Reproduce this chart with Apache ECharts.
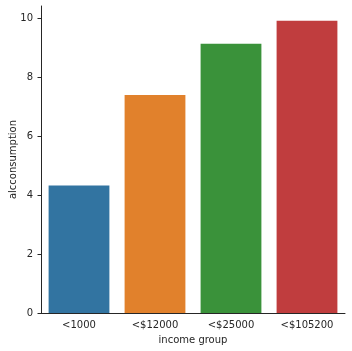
<!DOCTYPE html>
<html><head><meta charset="utf-8">
<script src="https://cdn.jsdelivr.net/npm/echarts@6/dist/echarts.min.js"></script>
<style>html,body{margin:0;padding:0;background:#fff}#c{width:352px;height:351px}</style>
</head><body><div id="c"></div>
<script>
const categories = ['<1000', '<$12000', '<$25000', '<$105200'];
const values = [4.33, 7.40, 9.14, 9.92];
const colors = ['#3274a1', '#e1812c', '#3a923a', '#c03d3e'];
const yTicks = [0, 2, 4, 6, 8, 10];

const chart = echarts.init(document.getElementById('c'), null, {renderer: 'canvas'});
const font = 'DejaVu Sans';
chart.setOption({
  animation: false,
  backgroundColor: '#fff',
  grid: {left: 41, right: 7, top: 6, bottom: 38, containLabel: false, outerBoundsMode: 'none'},
  xAxis: {
    type: 'category', data: categories,
    name: 'income group', nameLocation: 'middle', nameGap: 22, nameMoveOverlap: false,
    nameTextStyle: {fontFamily: font, fontSize: 10, color: '#262626'},
    axisLine: {lineStyle: {color: '#262626', width: 1}},
    axisTick: {alignWithLabel: true, length: 3.5, lineStyle: {color: '#262626'}},
    axisLabel: {fontFamily: font, fontSize: 10, color: '#262626', margin: 7}
  },
  yAxis: {
    type: 'value', min: 0, max: 10.42, interval: 2,
    name: 'alcconsumption', nameLocation: 'middle', nameGap: 23, nameRotate: 90, nameMoveOverlap: false,
    nameTextStyle: {fontFamily: font, fontSize: 10, color: '#262626'},
    axisLine: {show: true, lineStyle: {color: '#262626', width: 1}},
    axisTick: {show: true, length: 3.5, lineStyle: {color: '#262626'}},
    splitLine: {show: false},
    axisLabel: {fontFamily: font, fontSize: 10, color: '#262626', margin: 8,
      showMaxLabel: false,
      formatter: v => yTicks.includes(v) ? String(v) : ''}
  },
  series: [{
    type: 'bar', barWidth: '80%',
    data: values.map((v, i) => ({value: v, itemStyle: {color: colors[i]}}))
  }]
});
</script></body></html>
